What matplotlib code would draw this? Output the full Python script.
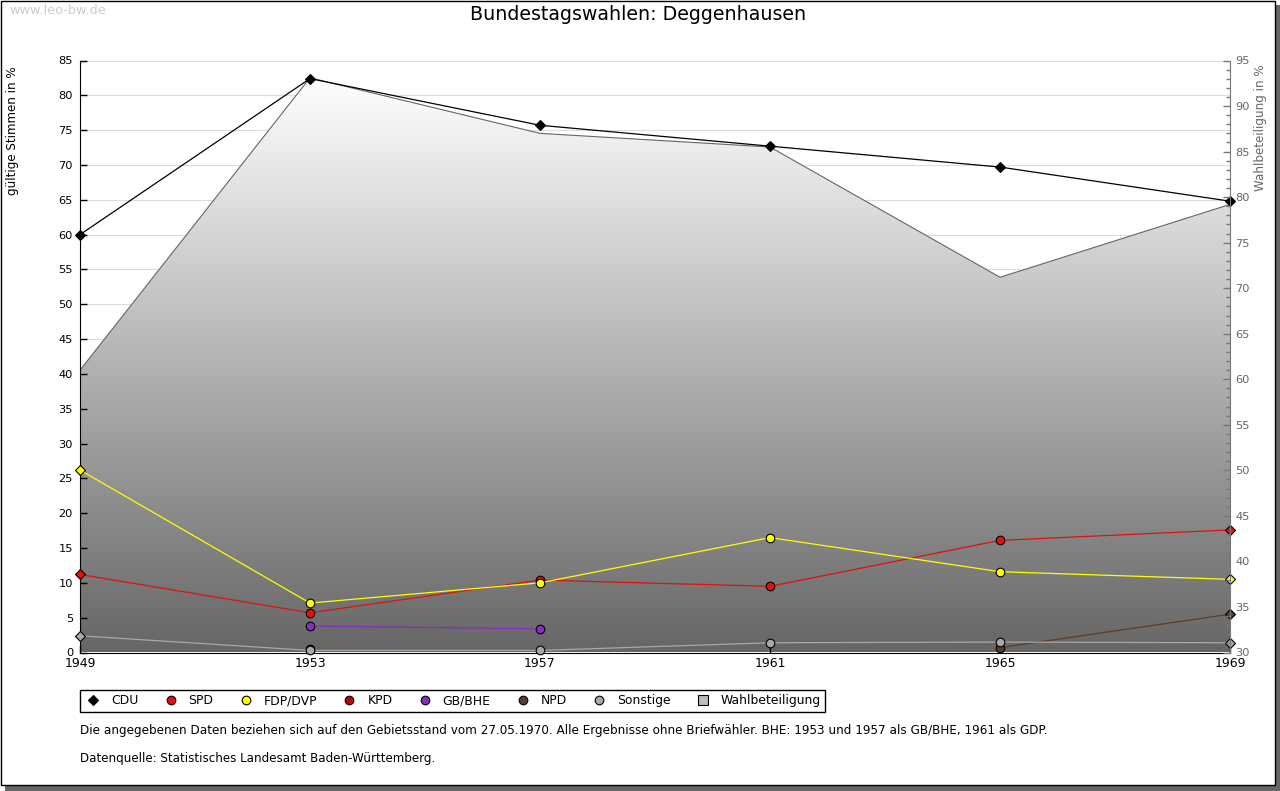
import numpy as np
import matplotlib
matplotlib.use("Agg")
import matplotlib.pyplot as plt
from matplotlib.colors import LinearSegmentedColormap
from matplotlib.lines import Line2D
from matplotlib.patches import Rectangle, Polygon

years = [1949, 1953, 1957, 1961, 1965, 1969]
nan = float("nan")
cdu = [60.0, 82.4, 75.7, 72.7, 69.7, 64.8]
spd = [11.2, 5.7, 10.4, 9.5, 16.1, 17.6]
fdp = [26.2, 7.1, 10.0, 16.5, 11.6, 10.5]
kpd = [nan, 0.5, nan, nan, nan, nan]
gb = [nan, 3.8, 3.4, nan, nan, nan]
npd = [nan, nan, nan, nan, 0.7, 5.5]
sonstige = [2.4, 0.3, 0.3, 1.4, 1.5, 1.4]
turnout = [61.0, 93.1, 87.0, 85.5, 71.2, 79.2]

names = ["CDU", "SPD", "FDP/DVP", "KPD", "GB/BHE", "NPD", "Sonstige"]
series = [cdu, spd, fdp, kpd, gb, npd, sonstige]
colors = ["#000000", "#e31010", "#ffff00", "#c00000", "#8a2cc0", "#5a3d28", "#a8a8a8"]

W, H = 1280, 791
plt.rcParams["font.family"] = "DejaVu Sans"
fig = plt.figure(figsize=(W / 100, H / 100), dpi=100, facecolor="white")

def px(x, y, w, h):
    return (x / W, 1 - (y + h) / H, w / W, h / H)

# Page frame with drop shadow
fig.add_artist(Rectangle((5 / W, 0), 1 - 5 / W, 1 - 5 / H, transform=fig.transFigure,
                         fc="#666666", ec="none", zorder=-3))
fig.add_artist(Rectangle((0.5 / W, 1 - 785 / H), 1274 / W, 784.5 / H, transform=fig.transFigure,
                         fc="white", ec="black", lw=1, zorder=-2))

pos = px(80, 60.5, 1150, 592)

# Layer 1: gridlines
ax_grid = fig.add_axes(pos, facecolor="white")
ax_grid.set_xlim(1949, 1969)
ax_grid.set_ylim(0, 85)
ax_grid.set_yticks(np.arange(0, 90, 5))
ax_grid.set_xticks([])
ax_grid.yaxis.grid(True, color="#dddddd", lw=0.8)
ax_grid.tick_params(left=False, labelleft=False)
for s in ax_grid.spines.values():
    s.set_visible(False)

# Layer 2: turnout area with gradient
ax_area = fig.add_axes(pos, facecolor="none")
ax_area.set_xlim(1949, 1969)
ax_area.set_ylim(30, 95)
ax_area.axis("off")
cmap = LinearSegmentedColormap.from_list("g", ["#ffffff", "#666666"])
grad = np.linspace(0, 1, 256).reshape(-1, 1)
im = ax_area.imshow(grad, cmap=cmap, aspect="auto", origin="upper",
                    extent=[1949, 1969, 30, max(turnout)], zorder=1)
poly = Polygon(list(zip(years, turnout)) + [(1969, 30), (1949, 30)], closed=True,
               transform=ax_area.transData, fc="none", ec="none")
ax_area.add_patch(poly)
im.set_clip_path(poly)
ax_area.plot(years, turnout, color="#666666", lw=0.8, zorder=2)
ax_area.set_xlim(1949, 1969)
ax_area.set_ylim(30, 95)

# Layer 3: party lines, left and bottom axis
ax = fig.add_axes(pos, facecolor="none")
ax.set_xlim(1949, 1969)
ax.set_ylim(0, 85)
ax.set_axisbelow(False)
for vals, c in zip(series, colors):
    ax.plot(years, vals, color=c, lw=0.9, clip_on=False, zorder=3)
    mid_marker = "D" if c == "#000000" else "o"
    mid_size = 5.2 if c == "#000000" else 6.2
    ax.plot(years[1:-1], vals[1:-1], ls="none", marker=mid_marker, ms=mid_size, mfc=c, mec="black",
            mew=0.8, clip_on=False, zorder=3)
    ax.plot([years[0], years[-1]], [vals[0], vals[-1]], ls="none", marker="D", ms=5.2, mfc=c,
            mec="black", mew=0.8, clip_on=False, zorder=3)
ax.set_xticks(years)
ax.set_yticks(np.arange(0, 90, 5))
ax.tick_params(axis="x", direction="in", length=5, width=1, labelsize=9.0, pad=3)
ax.tick_params(axis="y", direction="in", length=5, width=1, labelsize=8.2, pad=5)
for s in ("top", "right"):
    ax.spines[s].set_visible(False)
ax.set_ylabel("gültige Stimmen in %", fontsize=8.6)
ax.yaxis.set_label_coords(19 / W, 1 - 131 / H, transform=fig.transFigure)

# Layer 4: right axis
axr = fig.add_axes(pos, facecolor="none")
axr.set_xlim(1949, 1969)
axr.set_ylim(30, 95)
axr.xaxis.set_visible(False)
axr.yaxis.tick_right()
axr.yaxis.set_label_position("right")
axr.set_yticks(np.arange(30, 100, 5))
axr.set_yticks(np.arange(30, 96, 1), minor=True)
axr.tick_params(axis="y", which="major", direction="in", length=5, width=1, color="#777777",
                labelcolor="#666666", labelsize=8.2, pad=4)
axr.tick_params(axis="y", which="minor", direction="in", length=3, width=1, color="#777777")
for s in ("top", "left", "bottom"):
    axr.spines[s].set_visible(False)
axr.spines["right"].set_color("#777777")
axr.set_ylabel("Wahlbeteiligung in %", fontsize=8.6, color="#666666")
axr.yaxis.set_label_coords(1254 / W, 1 - 128 / H, transform=fig.transFigure)

# Legend
handles = [Line2D([], [], ls="none", marker="D" if c == "#000000" else "o",
                  ms=5.2 if c == "#000000" else 6.2, mfc=c, mec="black", mew=0.8)
           for c in colors]
handles.append(Line2D([], [], ls="none", marker="s", ms=6.5, mfc="#bbbbbb", mec="black", mew=0.8))
leg = fig.legend(handles, names + ["Wahlbeteiligung"], ncol=8, loc="upper left",
                 bbox_to_anchor=(80 / W, 1 - 690 / H), bbox_transform=fig.transFigure,
                 borderaxespad=0, fontsize=8.9, frameon=True, fancybox=False,
                 edgecolor="black", framealpha=1, handlelength=1.4, handletextpad=0.75,
                 columnspacing=1.91, borderpad=0.35)
leg.get_frame().set_linewidth(1)

# Titles and notes
fig.text(638 / W, 1 - 14 / H, "Bundestagswahlen: Deggenhausen", ha="center", va="center", fontsize=13.7)
fig.text(9 / W, 1 - 10.5 / H, "www.leo-bw.de", ha="left", va="center", fontsize=9.3, color="#cccccc")
fig.text(80 / W, 1 - 730.5 / H,
         "Die angegebenen Daten beziehen sich auf den Gebietsstand vom 27.05.1970. Alle Ergebnisse ohne Briefwähler. BHE: 1953 und 1957 als GB/BHE, 1961 als GDP.",
         ha="left", va="center", fontsize=8.65)
fig.text(80 / W, 1 - 758.5 / H, "Datenquelle: Statistisches Landesamt Baden-Württemberg.",
         ha="left", va="center", fontsize=8.6)

fig.savefig("out.png", dpi=100)
